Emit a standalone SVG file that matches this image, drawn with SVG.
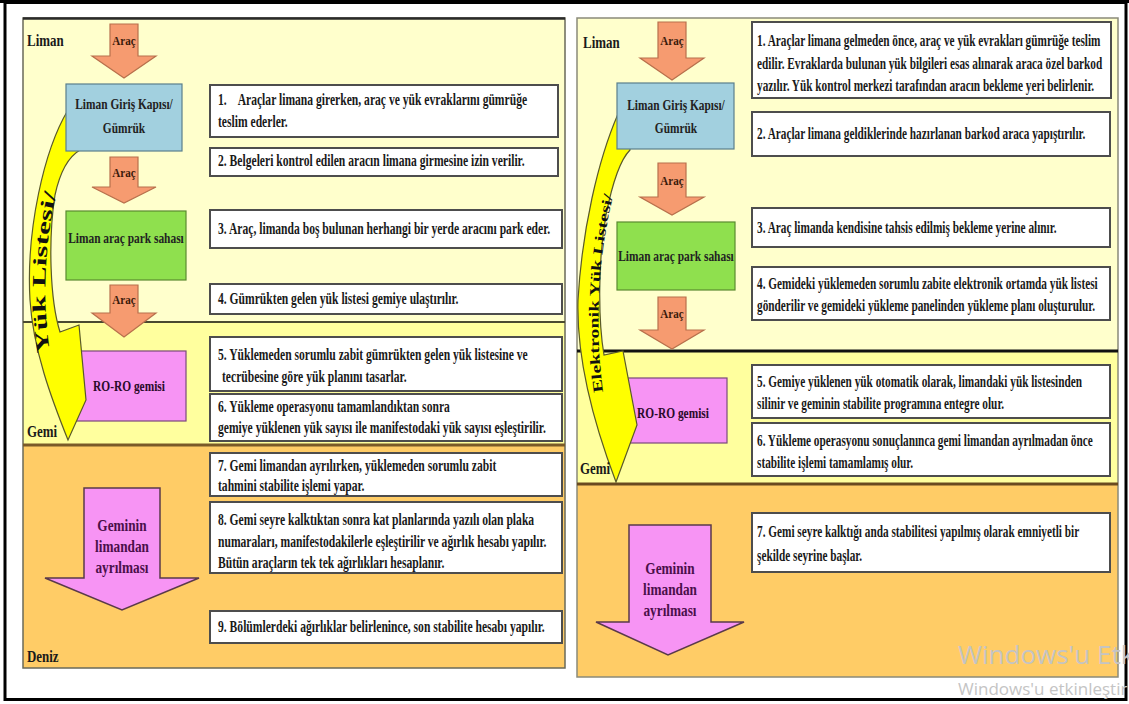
<svg xmlns="http://www.w3.org/2000/svg" width="1129" height="704" viewBox="0 0 1129 704">
<defs>
<style>
.t{font-family:"Liberation Serif","Times New Roman",serif;font-weight:bold;font-size:16px;fill:#1a1a1a}
.lbl{font-family:"Liberation Serif","Times New Roman",serif;font-weight:bold;font-size:17.5px;fill:#1a1a1a}
.nl{font-family:"Liberation Serif","Times New Roman",serif;font-weight:bold;font-size:15px;fill:#222;text-anchor:middle}
.ar{font-family:"Liberation Serif","Times New Roman",serif;font-weight:bold;font-size:13px;fill:#3a1a0a;text-anchor:middle}
.pk{font-family:"Liberation Serif","Times New Roman",serif;font-weight:bold;font-size:17px;fill:#4a0f4a;text-anchor:middle}
.box{fill:#fff;stroke:#4d4d4d;stroke-width:2}
.blue{fill:#a2d0df;stroke:#5a7f8c;stroke-width:1.2}
.green{fill:#8fe04e;stroke:#5a8a30;stroke-width:1.2}
.pink{fill:#f794f4;stroke:#7a4a7a;stroke-width:1.2}
.oarr{fill:#f69b70;stroke:#b8704c;stroke-width:1.2}
.parr{fill:#f794f4;stroke:#5a3a4a;stroke-width:1.5}
.yarr{fill:#ffff00;stroke:#5a5a2a;stroke-width:1.2}
.yt{font-family:"Liberation Serif","Times New Roman",serif;font-weight:bold;fill:#111}
.wm{font-family:"Open Sans","Noto Sans",sans-serif;fill:#c4c4c4}
</style>
</defs>
<rect x="0" y="0" width="1129" height="704" fill="#fff"/>
<rect x="5" y="2.5" width="1121" height="697" fill="none" stroke="#000" stroke-width="3"/>
<rect x="0" y="0" width="1129" height="3" fill="#000"/>

<g id="left-panel">
<rect x="23" y="18" width="542" height="304" fill="#ffffcc"/>
<rect x="23" y="322" width="542" height="123" fill="#ffff9e"/>
<rect x="23" y="445" width="542" height="223" fill="#ffcc66"/>
<rect x="23" y="18" width="542" height="650" fill="none" stroke="#6a6a5a" stroke-width="1.5"/>
<line x1="23" y1="18.5" x2="565" y2="18.5" stroke="#2a2a2a" stroke-width="2.5"/>
<line x1="23" y1="322" x2="565" y2="322" stroke="#4a4a30" stroke-width="2"/>
<line x1="23" y1="445" x2="565" y2="445" stroke="#7a5a28" stroke-width="3"/>
</g>

<g id="right-panel">
<rect x="577" y="18" width="541" height="333" fill="#ffffcc"/>
<rect x="577" y="351" width="541" height="133" fill="#ffff9e"/>
<rect x="577" y="484" width="541" height="193" fill="#ffcc66"/>
<rect x="577" y="18" width="541" height="659" fill="none" stroke="#8a8a7a" stroke-width="1.5"/>
<line x1="577" y1="351" x2="1118" y2="351" stroke="#111" stroke-width="3"/>
<line x1="577" y1="484" x2="1118" y2="484" stroke="#6a4a20" stroke-width="3"/>
</g>

<g id="connectors">
<polygon class="oarr" points="110,24 138,24 138,56 156,56 124,78 92,56 110,56"/>
<polygon class="oarr" points="110,157 138,157 138,187 156,187 124,203 92,187 110,187"/>
<polygon class="oarr" points="110,285 138,285 138,313 156,313 124,337 92,313 110,313"/>
<polygon class="oarr" points="658,22 686,22 686,58 704,58 672,80 640,58 658,58"/>
<polygon class="oarr" points="658,163 686,163 686,197 704,197 672,215 640,197 658,197"/>
<polygon class="oarr" points="658,297 686,297 686,330 704,330 672,349 640,330 658,330"/>
<text class="ar" transform="translate(124,45) scale(0.85,1)">Araç</text>
<text class="ar" transform="translate(124,177) scale(0.85,1)">Araç</text>
<text class="ar" transform="translate(124,304) scale(0.85,1)">Araç</text>
<text class="ar" transform="translate(672,45) scale(0.85,1)">Araç</text>
<text class="ar" transform="translate(672,185) scale(0.85,1)">Araç</text>
<text class="ar" transform="translate(672,318) scale(0.85,1)">Araç</text>
</g>

<g id="l-roro"><rect class="pink" x="73" y="351" width="113" height="70"/><text class="nl" transform="translate(129,391) scale(0.76,1)" style="fill:#2a0a2a">RO-RO gemisi</text></g>
<g id="l-yuk-listesi">
<path class="yarr" d="M80 106 L68 110 C44 150,26 230,30 300 C33 350,52 400,68 440 L86 400 L79 325 L60 332 C50 300,48 240,55 195 C60 172,68 157,80 150 Z"/>
<path id="lp" d="M50 352 C42 300,44 240,58 188" fill="none"/>
<text class="yt" font-size="19"><textPath href="#lp" textLength="160" lengthAdjust="spacingAndGlyphs">Yük Listesi/</textPath></text>
</g>
<g id="l-gate"><rect class="blue" x="66" y="84" width="116" height="67"/><text class="nl" transform="translate(124,109) scale(0.76,1)">Liman Giriş Kapısı/</text><text class="nl" transform="translate(124,133) scale(0.76,1)">Gümrük</text></g>
<g id="l-park"><rect class="green" x="66" y="211" width="120" height="69"/><text class="nl" transform="translate(126,243) scale(0.76,1)">Liman araç park sahası</text></g>
<g id="l-depart"><polygon class="parr" points="84,488 160,488 160,578 199,578 122,610 45,578 84,578"/><text class="pk" transform="translate(122,531) scale(0.78,1)">Geminin</text><text class="pk" transform="translate(122,552) scale(0.78,1)">limandan</text><text class="pk" transform="translate(122,573) scale(0.78,1)">ayrılması</text></g>

<g id="l-s1"><rect class="box" x="210" y="85" width="348" height="52"/>
<text class="t" transform="translate(218,105) scale(0.725,1)" xml:space="preserve">1.    Araçlar limana girerken, araç ve yük evraklarını gümrüğe</text>
<text class="t" transform="translate(218,127) scale(0.725,1)">teslim ederler.</text></g>
<g id="l-s2"><rect class="box" x="210" y="148" width="348" height="28"/>
<text class="t" transform="translate(218,166) scale(0.725,1)">2. Belgeleri kontrol edilen aracın limana girmesine izin verilir.</text></g>
<g id="l-s3"><rect class="box" x="210" y="210" width="352" height="38"/>
<text class="t" transform="translate(218,234) scale(0.725,1)">3. Araç, limanda boş bulunan herhangi bir yerde aracını park eder.</text></g>
<g id="l-s4"><rect class="box" x="210" y="284" width="352" height="30"/>
<text class="t" transform="translate(218,304) scale(0.725,1)">4. Gümrükten gelen yük listesi gemiye ulaştırılır.</text></g>
<g id="l-s5"><rect class="box" x="210" y="337" width="352" height="54"/>
<text class="t" transform="translate(218,360) scale(0.725,1)">5. Yüklemeden sorumlu zabit gümrükten gelen yük listesine ve</text>
<text class="t" transform="translate(222,382) scale(0.725,1)">tecrübesine göre yük planını tasarlar.</text></g>
<g id="l-s6"><rect class="box" x="210" y="394" width="352" height="47"/>
<text class="t" transform="translate(218,412) scale(0.725,1)">6. Yükleme operasyonu tamamlandıktan sonra</text>
<text class="t" transform="translate(218,433) scale(0.725,1)">gemiye yüklenen yük sayısı ile manifestodaki yük sayısı eşleştirilir.</text></g>
<g id="l-s7"><rect class="box" x="210" y="453" width="352" height="43"/>
<text class="t" transform="translate(218,471) scale(0.725,1)">7. Gemi limandan ayrılırken, yüklemeden sorumlu zabit</text>
<text class="t" transform="translate(218,491) scale(0.725,1)">tahmini stabilite işlemi yapar.</text></g>
<g id="l-s8"><rect class="box" x="210" y="502" width="352" height="71"/>
<text class="t" transform="translate(218,525) scale(0.725,1)">8. Gemi seyre kalktıktan sonra kat planlarında yazılı olan plaka</text>
<text class="t" transform="translate(218,547) scale(0.725,1)">numaraları, manifestodakilerle eşleştirilir ve ağırlık hesabı yapılır.</text>
<text class="t" transform="translate(218,568) scale(0.725,1)">Bütün araçların tek tek ağırlıkları hesaplanır.</text></g>
<g id="l-s9"><rect class="box" x="210" y="611" width="352" height="32"/>
<text class="t" transform="translate(218,632) scale(0.725,1)">9. Bölümlerdeki ağırlıklar belirlenince, son stabilite hesabı yapılır.</text></g>

<g id="r-roro"><rect class="pink" x="617" y="378" width="110" height="65"/><text class="nl" transform="translate(673,418) scale(0.76,1)" style="fill:#2a0a2a">RO-RO gemisi</text></g>
<g id="r-yuk-listesi">
<path class="yarr" d="M630 110 L618 114 C598 160,582 230,578 300 C576 370,600 440,616 482 L637 425 L623 351 L604 355 C598 320,598 260,606 215 C612 185,620 160,630 150 Z"/>
<path id="rp" d="M603 392 C595 330,597 262,613 196" fill="none"/>
<text class="yt" font-size="14"><textPath href="#rp" textLength="198" lengthAdjust="spacingAndGlyphs">Elektronik Yük Listesi/</textPath></text>
</g>
<g id="r-gate"><rect class="blue" x="617" y="83" width="117" height="66"/><text class="nl" transform="translate(676,110) scale(0.76,1)">Liman Giriş Kapısı/</text><text class="nl" transform="translate(676,133) scale(0.76,1)">Gümrük</text></g>
<g id="r-park"><rect class="green" x="617" y="222" width="118" height="68"/><text class="nl" transform="translate(676,261) scale(0.76,1)">Liman araç park sahası</text></g>
<g id="r-depart"><polygon class="parr" points="629,525 711,525 711,622 744,622 668,655 596,622 629,622"/><text class="pk" transform="translate(670,574) scale(0.78,1)">Geminin</text><text class="pk" transform="translate(670,595) scale(0.78,1)">limandan</text><text class="pk" transform="translate(670,616) scale(0.78,1)">ayrılması</text></g>

<g id="r-s1"><rect class="box" x="752" y="22" width="359" height="76"/>
<text class="t" transform="translate(757,46) scale(0.705,1)">1. Araçlar limana gelmeden önce, araç ve yük evrakları gümrüğe teslim</text>
<text class="t" transform="translate(757,69) scale(0.705,1)">edilir. Evraklarda bulunan yük bilgileri esas alınarak araca özel barkod</text>
<text class="t" transform="translate(757,91) scale(0.705,1)">yazılır. Yük kontrol merkezi tarafından aracın bekleme yeri belirlenir.</text></g>
<g id="r-s2"><rect class="box" x="752" y="112" width="358" height="44"/>
<text class="t" transform="translate(757,139) scale(0.705,1)">2. Araçlar limana geldiklerinde hazırlanan barkod araca yapıştırılır.</text></g>
<g id="r-s3"><rect class="box" x="752" y="208" width="358" height="39"/>
<text class="t" transform="translate(757,233) scale(0.705,1)">3. Araç limanda kendisine tahsis edilmiş bekleme yerine alınır.</text></g>
<g id="r-s4"><rect class="box" x="752" y="267" width="358" height="53"/>
<text class="t" transform="translate(757,289) scale(0.705,1)">4. Gemideki yüklemeden sorumlu zabite elektronik ortamda yük listesi</text>
<text class="t" transform="translate(757,311) scale(0.705,1)">gönderilir ve gemideki yükleme panelinden yükleme planı oluşturulur.</text></g>
<g id="r-s5"><rect class="box" x="752" y="365" width="358" height="53"/>
<text class="t" transform="translate(757,387) scale(0.705,1)">5. Gemiye yüklenen yük otomatik olarak, limandaki yük listesinden</text>
<text class="t" transform="translate(757,409) scale(0.705,1)">silinir ve geminin stabilite programına entegre olur.</text></g>
<g id="r-s6"><rect class="box" x="752" y="423" width="358" height="53"/>
<text class="t" transform="translate(757,446) scale(0.705,1)">6. Yükleme operasyonu sonuçlanınca gemi limandan ayrılmadan önce</text>
<text class="t" transform="translate(757,468) scale(0.705,1)">stabilite işlemi tamamlamış olur.</text></g>
<g id="r-s7"><rect class="box" x="752" y="513" width="358" height="59"/>
<text class="t" transform="translate(757,537) scale(0.705,1)">7. Gemi seyre kalktığı anda stabilitesi yapılmış olarak emniyetli bir</text>
<text class="t" transform="translate(757,561) scale(0.705,1)">şekilde seyrine başlar.</text></g>

<g id="section-labels">
<text class="lbl" transform="translate(27,46) scale(0.74,1)">Liman</text>
<text class="lbl" transform="translate(27,437) scale(0.74,1)">Gemi</text>
<text class="lbl" transform="translate(27,662) scale(0.74,1)">Deniz</text>
<text class="lbl" transform="translate(583,48) scale(0.74,1)">Liman</text>
<text class="lbl" transform="translate(580,474) scale(0.74,1)">Gemi</text>
</g>

<text class="wm" x="958" y="664" font-size="26">Windows'u Etkin</text>
<text class="wm" x="958" y="695" font-size="17">Windows'u etkinleştir</text>
</svg>
